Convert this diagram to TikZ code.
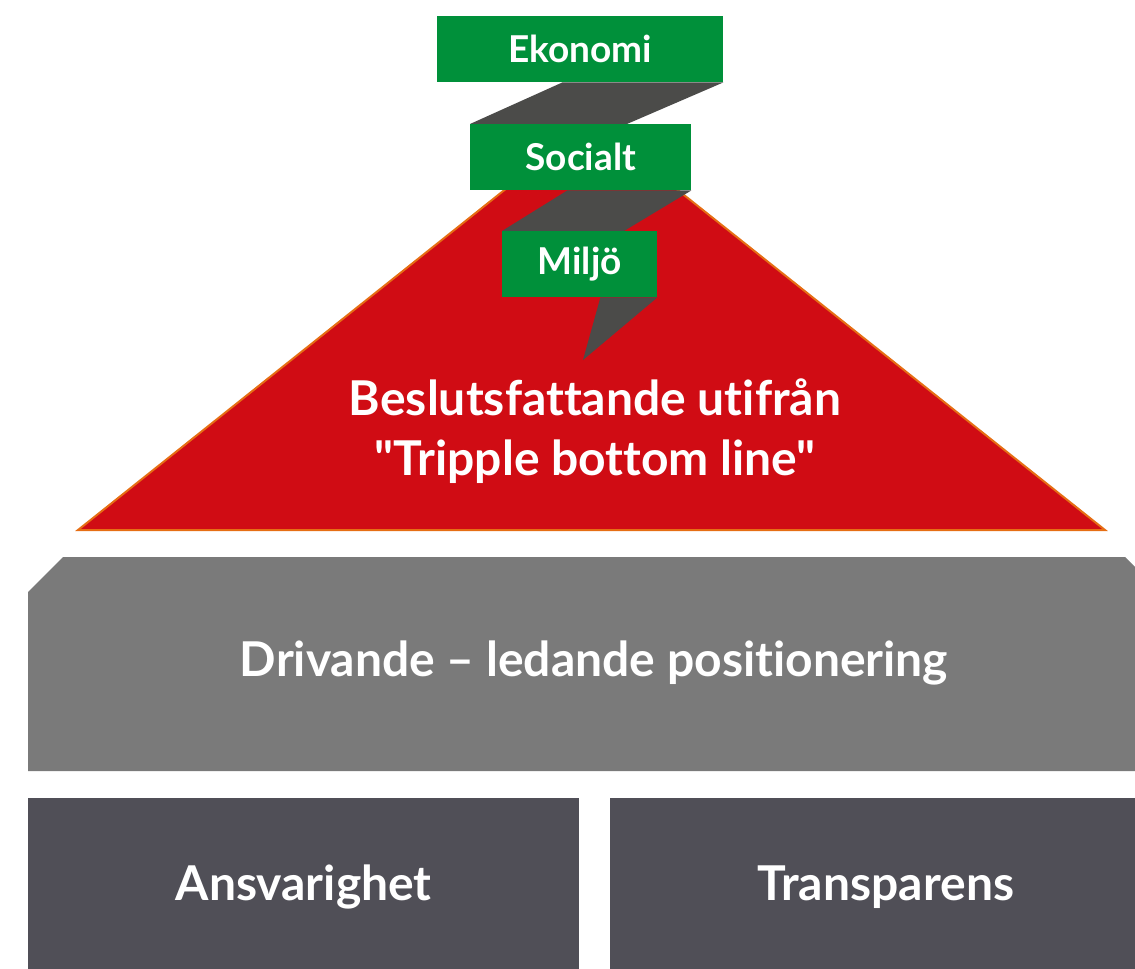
\documentclass[tikz,border=0pt]{standalone}
\usepackage{fontspec}
\setmainfont{Lato}[Ligatures={TeXOff,NoCommon}]
\usetikzlibrary{positioning,calc}

\definecolor{tblred}{HTML}{D00C14}
\definecolor{tblorange}{HTML}{E66E14}
\definecolor{tblgreen}{HTML}{00903A}
\definecolor{ribbon}{HTML}{4B4B49}
\definecolor{bandgray}{HTML}{7A7A7A}
\definecolor{pillargray}{HTML}{504F57}

\pgfdeclarelayer{roofback}
\pgfdeclarelayer{ribbonback}
\pgfsetlayers{roofback,ribbonback,main}

\begin{document}
\begin{tikzpicture}[x=1pt,y=-1pt,
    pillar/.style={fill=pillargray, text=white, anchor=north west, inner sep=0pt,
      minimum width=551pt, minimum height=178pt, font=\bfseries\fontsize{48}{56}\selectfont},
    tag/.style={fill=tblgreen, text=white, anchor=north west, inner sep=0pt,
      minimum height=66pt, font=\bfseries\fontsize{37}{42}\selectfont},
    label/.style={text=white, align=center, font=\bfseries\fontsize{48}{60}\selectfont}]
    \path[use as bounding box, clip] (0,0) rectangle (1135,969);

    % roof
    \begin{pgfonlayer}{roofback}
    \draw[fill=tblred, draw=tblorange, line width=2pt, line join=miter]
      (78,530) -- (591,121) -- (1105,530) -- cycle;
    \end{pgfonlayer}
    \node[label] (roof) at (595,431) {Beslutsfattande utifrån\\"Tripple bottom line"};

    % band
    \fill[bandgray] (28,592) -- (63,557) -- (1125,557) -- (1160,592) -- (1160,771) -- (28,771) -- cycle;
    \node[label] (band) at (594,663) {Drivande – ledande positionering};

    % pillars
    \node[pillar] (ansvar)  at (28,798)  {Ansvarighet};
    \node[pillar] (transp)  at (610,798) {Transparens};

    % tags
    \node[tag, minimum width=286pt] (eko) at (437,16)  {Ekonomi};
    \node[tag, minimum width=221pt] (soc) at (470,124) {Socialt};
    \node[tag, minimum width=155pt] (mil) at (502,231) {Miljö};

    % ribbon
    \begin{pgfonlayer}{ribbonback}
    \fill[ribbon] ($(eko.south east)+(-161,0)$) -- (eko.south east)
      -- ($(soc.north west)+(157,0)$) -- (soc.north west) -- cycle;
    \fill[ribbon] ($(soc.south east)+(-124,0)$) -- (soc.south east)
      -- ($(mil.north west)+(122,0)$) -- (mil.north west) -- cycle;
    \fill[ribbon] ($(mil.south east)+(-57,0)$) -- (mil.south east) -- (583,360) -- cycle;
    \end{pgfonlayer}
\end{tikzpicture}
\end{document}
